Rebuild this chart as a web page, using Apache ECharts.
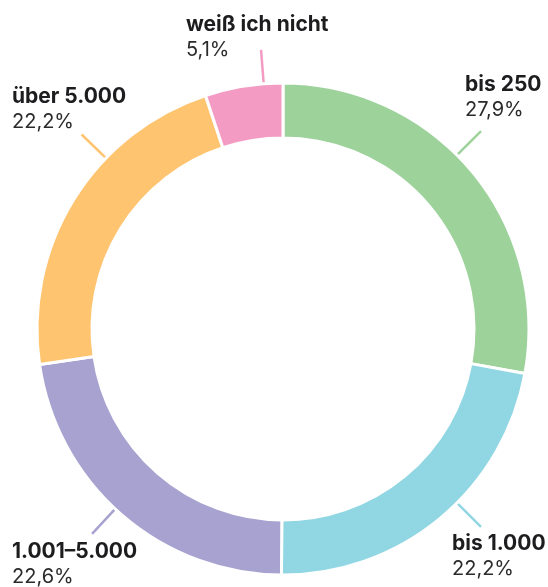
<!DOCTYPE html>
<html>
<head>
<meta charset="utf-8">
<script src="https://cdn.jsdelivr.net/npm/echarts@6/dist/echarts.min.js"></script>
<style>
  html, body { margin: 0; padding: 0; background: #fff; }
  #chart { width: 548px; height: 587px; }
</style>
</head>
<body>
<div id="chart"></div>
<script>
// Daten
const categories = ['bis 250', 'bis 1.000', '1.001–5.000', 'über 5.000', 'weiß ich nicht'];
const shares = [27.9, 22.2, 22.6, 22.2, 5.1];

// Farben & Beschriftungs-Layout
const colors = ['#9dd29b', '#91d7e3', '#a7a2cf', '#fec46f', '#f49bc3'];
const labelPos = [[465, 72], [452, 531], [12, 539], [12, 84], [186, 12]];
const lineAngles = [45, 135, 223, 314, -4.5]; // Grad, im Uhrzeigersinn ab oben

const center = [283, 329];
const rOuter = 246;
const rInner = 191;
const lineEnd = 280;

function polar (deg, r) {
    const a = deg * Math.PI / 180;
    return [center[0] + r * Math.sin(a), center[1] - r * Math.cos(a)];
}

const chart = echarts.init(document.getElementById('chart'));
chart.setOption({
    animation: false,
    series: [
        {
            type: 'pie',
            center: center,
            radius: [rInner, rOuter],
            startAngle: 90,
            clockwise: true,
            avoidLabelOverlap: false,
            silent: true,
            itemStyle: {
                borderColor: '#fff',
                borderWidth: 3
            },
            label: {
                show: true,
                position: 'outside',
                formatter: (p) => '{b|' + p.name + '}\n{p|' + p.value.toFixed(1).replace('.', ',') + '%}',
                rich: {
                    b: {
                        fontFamily: 'Inter',
                        fontWeight: 700,
                        fontSize: 21,
                        lineHeight: 26,
                        color: '#1d1d1f'
                    },
                    p: {
                        fontFamily: 'Inter',
                        fontWeight: 400,
                        fontSize: 20,
                        lineHeight: 24,
                        color: '#2b2b2b'
                    }
                }
            },
            labelLine: {
                show: true,
                length: 30,
                length2: 0,
                lineStyle: { width: 2.5 }
            },
            labelLayout: (params) => {
                const i = params.dataIndex;
                return {
                    x: labelPos[i][0],
                    y: labelPos[i][1],
                    align: 'left',
                    verticalAlign: 'top',
                    labelLinePoints: [polar(lineAngles[i], rOuter), polar(lineAngles[i], lineEnd)]
                };
            },
            data: categories.map((name, i) => ({
                name: name,
                value: shares[i],
                itemStyle: { color: colors[i] }
            }))
        }
    ]
});
</script>
</body>
</html>
